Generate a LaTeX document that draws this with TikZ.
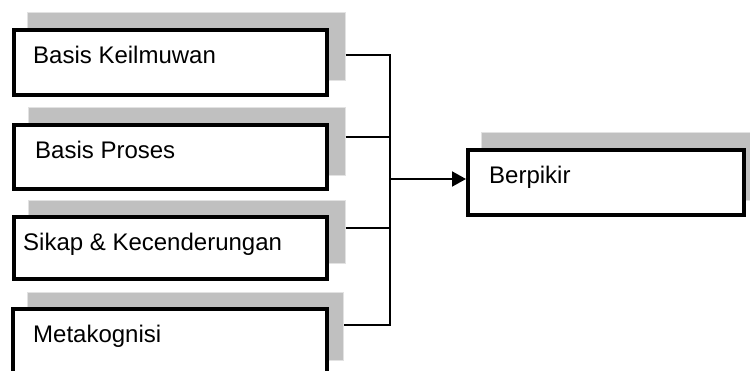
\documentclass[tikz,border=0pt]{standalone}
\usepackage{fontspec}
\setmainfont{Liberation Sans}
\usetikzlibrary{arrows.meta,calc}
\definecolor{shade}{HTML}{C0C0C0}
\definecolor{shadeedge}{HTML}{E2E2E2}
\begin{document}
\begin{tikzpicture}[x=1pt,y=-1pt,
  shadowbox/.style={draw=shadeedge,fill=shade,line width=1pt,inner sep=0pt},
  frontbox/.style={draw=black,fill=white,line width=4pt,inner sep=0pt},
  lbl/.style={anchor=base west,inner sep=0pt,font=\fontsize{24}{28}\selectfont},
  conn/.style={draw=black,line width=2pt},
  arr/.style={conn,-{Triangle[length=14pt,width=15pt]}}]
\useasboundingbox (0,0) rectangle (750,370);
\clip (0,0) rectangle (750,370);
% shadows
\node[shadowbox,minimum width=318pt,minimum height=68.7pt] (s1) at (186,46.6) {};
\node[shadowbox,minimum width=317pt,minimum height=68pt] (s2) at (186.5,141) {};
\node[shadowbox,minimum width=317pt,minimum height=63pt] (s3) at (186.5,231.5) {};
\node[shadowbox,minimum width=316pt,minimum height=68pt] (s4) at (185,326) {};
\node[shadowbox,minimum width=270pt,minimum height=68pt] (s5) at (616,166) {};
% front boxes
\node[frontbox,minimum width=313.5pt,minimum height=65pt] (f1) at (170.25,62.5) {};
\node[frontbox,minimum width=313.5pt,minimum height=64pt] (f2) at (170.25,157) {};
\node[frontbox,minimum width=313.5pt,minimum height=62pt] (f3) at (170.25,248) {};
\node[frontbox,minimum width=314pt,minimum height=65pt] (f4) at (170,341.5) {};
\node[frontbox,minimum width=276pt,minimum height=65pt] (b) at (606,182.5) {};
% labels
\node[lbl] (t1) at (33,63) {Basis Keilmuwan};
\node[lbl] (t2) at (35,158) {Basis Proses};
\node[lbl] (t3) at (23,250) {Sikap \& Kecenderungan};
\node[lbl] (t4) at (33,342) {Metakognisi};
\node[lbl] (t5) at (489,183) {Berpikir};
% connectors
\coordinate (top) at (390,55);
\coordinate (bot) at (390,325);
\coordinate (j) at (390,179);
\draw[conn] ([yshift=-8.4pt]s1.east) -- (top) -- (bot) -- ([yshift=1pt]s4.east);
\draw[conn] ([yshift=4pt]s2.east) -- ([yshift=4pt]s2.east -| top);
\draw[conn] ([yshift=3.5pt]s3.east) -- ([yshift=3.5pt]s3.east -| top);
\draw[arr] (j) -- (b.west |- j);
\end{tikzpicture}
\end{document}
